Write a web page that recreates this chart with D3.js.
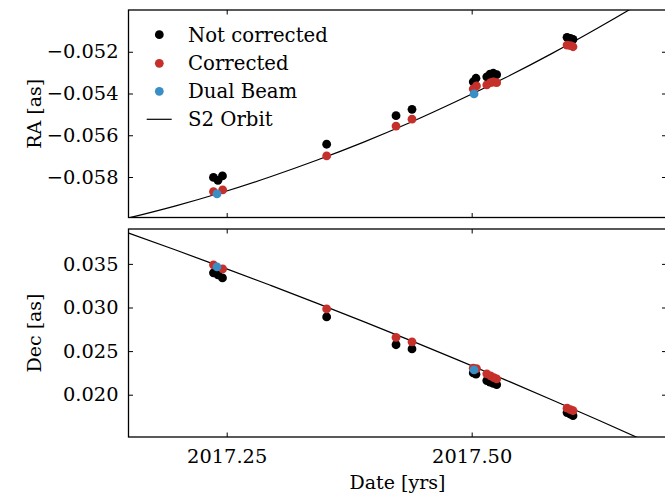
<!DOCTYPE html>
<html><head><meta charset="utf-8">
<script src="https://cdn.jsdelivr.net/npm/d3@7"></script>
<style>
body{margin:0;background:#fff;}
svg text{font-family:"DejaVu Serif",serif;fill:#000;}
</style></head>
<body>
<svg id="chart" width="665" height="495"></svg>
<script>
// ---- data ----
const ncDate = [2017.2365, 2017.2411, 2017.2457, 2017.3520, 2017.4228, 2017.4391, 2017.5016, 2017.5044, 2017.5154, 2017.5187, 2017.5221, 2017.5255, 2017.5973, 2017.6008, 2017.6034];
const ncRA   = [-0.05802, -0.05816, -0.05795, -0.05643, -0.05506, -0.05476, -0.05344, -0.05327, -0.05320, -0.05307, -0.05303, -0.05310, -0.05131, -0.05136, -0.05141];
const ncDec  = [0.03397, 0.03374, 0.03339, 0.02892, 0.02573, 0.02525, 0.02250, 0.02235, 0.02162, 0.02145, 0.02130, 0.02115, 0.01795, 0.01778, 0.01760];

const cDate = [2017.2365, 2017.2459, 2017.3520, 2017.4228, 2017.4391, 2017.5016, 2017.5049, 2017.5154, 2017.5193, 2017.5226, 2017.5255, 2017.5973, 2017.6008, 2017.6034];
const cRA   = [-0.05870, -0.05862, -0.05699, -0.05556, -0.05523, -0.05378, -0.05364, -0.05359, -0.05348, -0.05345, -0.05348, -0.05168, -0.05171, -0.05176];
const cDec  = [0.03489, 0.03443, 0.02984, 0.02657, 0.02606, 0.02304, 0.02300, 0.02239, 0.02216, 0.02195, 0.02181, 0.01845, 0.01830, 0.01818];

const dbDate = [2017.2401, 2017.5024];
const dbRA   = [-0.05881, -0.05402];
const dbDec  = [0.03466, 0.02284];

const orbitDate = [2017.1020, 2017.1500, 2017.1980, 2017.2459, 2017.2939, 2017.3418, 2017.3898, 2017.4378, 2017.4857, 2017.5337, 2017.5816, 2017.6296, 2017.6776, 2017.7255];
const orbitRA   = [-0.06050, -0.05996, -0.05938, -0.05873, -0.05800, -0.05720, -0.05633, -0.05538, -0.05435, -0.05326, -0.05209, -0.05084, -0.04952, -0.04812];
const orbitDec  = [0.04040, 0.03852, 0.03659, 0.03460, 0.03258, 0.03050, 0.02838, 0.02621, 0.02399, 0.02173, 0.01942, 0.01707, 0.01466, 0.01220];

const xTicks = [2017.25, 2017.50];
const raTicks = [-0.058, -0.056, -0.054, -0.052];
const decTicks = [0.020, 0.025, 0.030, 0.035];

const legendLabels = ["Not corrected", "Corrected", "Dual Beam", "S2 Orbit"];
const colors = {nc:"#000000", c:"#c5312a", db:"#3a8ec6"};

// ---- layout ----
const svg = d3.select("#chart");
const L = 128.5, R = 666.5;
const top1 = 10, bot1 = 217.5, top2 = 229, bot2 = 437;
const x = d3.scaleLinear().domain([2017.1498, 2017.6988]).range([L, R]);
const yRA = d3.scaleLinear().domain([-0.05994, -0.0500]).range([bot1, top1]);
const yDec = d3.scaleLinear().domain([0.01515, 0.0390]).range([bot2, top2]);
const tickLen = 4.5, fs = 19.4;

function panel(id, y, top, bot, ticks, fmt, ncV, cV, dbV, orbV, ylab, showX) {
  const g = svg.append("g");
  svg.append("clipPath").attr("id", id).append("rect")
    .attr("x", L).attr("y", top).attr("width", R - L).attr("height", bot - top);
  const pg = g.append("g").attr("clip-path", `url(#${id})`);
  const line = d3.line().curve(d3.curveCatmullRom).x((d,i)=>x(orbitDate[i])).y(d=>y(d));
  pg.append("path").attr("d", line(orbV)).attr("fill","none").attr("stroke","#000").attr("stroke-width",1.2);
  const dots = (dates, vals, col) => pg.append("g").selectAll("circle").data(vals).join("circle")
    .attr("cx", (d,i)=>x(dates[i])).attr("cy", d=>y(d)).attr("r", 4.4).attr("fill", col);
  dots(ncDate, ncV, colors.nc);
  dots(cDate, cV, colors.c);
  dots(dbDate, dbV, colors.db);

  // axes with inward ticks
  const ax = (gen, tx, ty) => {
    const a = g.append("g").attr("transform", `translate(${tx},${ty})`).call(gen);
    a.select(".domain").remove();
    a.selectAll(".tick line").attr("stroke","#000").attr("stroke-width",1);
    a.selectAll(".tick text").attr("font-family","DejaVu Serif").attr("font-size", fs).attr("fill","#000");
    return a;
  };
  ax(d3.axisLeft(y).tickValues(ticks).tickSize(-tickLen).tickPadding(10).tickFormat(fmt), L, 0);
  ax(d3.axisRight(y).tickValues(ticks).tickSize(-tickLen).tickFormat(""), R, 0);
  ax(d3.axisTop(x).tickValues(xTicks).tickSize(-tickLen).tickFormat(""), 0, top);
  ax(d3.axisBottom(x).tickValues(xTicks).tickSize(-tickLen).tickPadding(12).tickFormat(showX ? d3.format(".2f") : ""), 0, bot);

  g.append("rect").attr("x", L).attr("y", top).attr("width", R - L).attr("height", bot - top)
    .attr("fill","none").attr("stroke","#000").attr("stroke-width",1.3);

  g.append("text").attr("transform", `translate(41,${(top+bot)/2}) rotate(-90)`)
    .attr("text-anchor","middle").attr("font-size",19).text(ylab);
}

const raFmt = d => d3.format(".3f")(d).replace("-", "\u2212");
panel("c1", yRA, top1, bot1, raTicks, raFmt, ncRA, cRA, dbRA, orbitRA, "RA [as]", false);
panel("c2", yDec, top2, bot2, decTicks, d3.format(".3f"), ncDec, cDec, dbDec, orbitDec, "Dec [as]", true);

svg.append("text").attr("x", (L + R) / 2).attr("y", 489).attr("text-anchor","middle").attr("font-size",19).text("Date [yrs]");

// legend
const lg = svg.append("g");
const rows = [34.7, 63.3, 91.3, 119.3];
const lcols = [colors.nc, colors.c, colors.db];
legendLabels.forEach((lab, i) => {
  if (i < 3) lg.append("circle").attr("cx", 159.3).attr("cy", rows[i]).attr("r", 4.4).attr("fill", lcols[i]);
  else lg.append("line").attr("x1", 146.7).attr("x2", 171.7).attr("y1", rows[i]).attr("y2", rows[i]).attr("stroke","#000").attr("stroke-width",1.2);
  lg.append("text").attr("x", 188).attr("y", rows[i]).attr("dy","0.36em").attr("font-size",19.7).text(lab);
});
</script>
</body></html>
